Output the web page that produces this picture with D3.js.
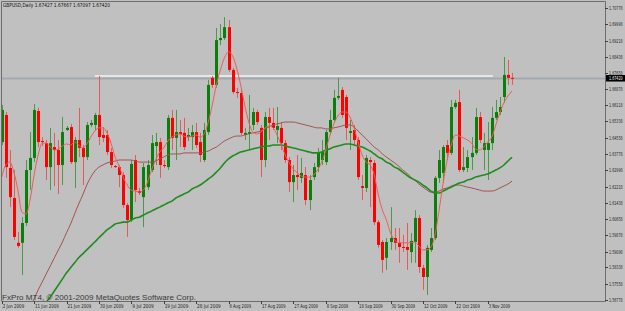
<!DOCTYPE html>
<html>
<head>
<meta charset="utf-8">
<script src="https://cdnjs.cloudflare.com/ajax/libs/d3/7.8.5/d3.min.js"></script>
<style>
    html, body { margin: 0; padding: 0; background: #c0c0c0; }
    svg { display: block; }
</style>
</head>
<body>
<svg id="chart" width="625" height="311"></svg>
<script>
/** ------------- DATA (GBPUSD Daily) ---------------------------------- */

const title = "GBPUSD,Daily  1.67427 1.67667 1.67097 1.67420";
const copyright = "FxPro MT4, \u00a9 2001-2009 MetaQuotes Software Corp.";

const opens = [
    1.6435, 1.6565, 1.6311, 1.6167, 1.5952, 1.5952, 1.6047, 1.6301, 1.6359, 1.6584,
    1.6440, 1.6430, 1.6315, 1.6411, 1.6397, 1.6325, 1.6493, 1.6507, 1.6339, 1.6445,
    1.6407, 1.6363, 1.6517, 1.6517, 1.6565, 1.6469, 1.6469, 1.6387, 1.6320, 1.6315,
    1.6277, 1.6133, 1.6061, 1.6349, 1.6200, 1.6171, 1.6219, 1.6301, 1.6416, 1.6435,
    1.6325, 1.6315, 1.6551, 1.6455, 1.6483, 1.6479, 1.6459, 1.6459, 1.6483, 1.6435,
    1.6349, 1.6483, 1.6743, 1.6709, 1.6924, 1.6934, 1.6986, 1.6781, 1.6675, 1.6670,
    1.6469, 1.6474, 1.6517, 1.6579, 1.6503, 1.6349, 1.6555, 1.6527, 1.6493, 1.6503,
    1.6430, 1.6349, 1.6243, 1.6277, 1.6263, 1.6277, 1.6157, 1.6267, 1.6315, 1.6349,
    1.6339, 1.6483, 1.6541, 1.6647, 1.6685, 1.6651, 1.6479, 1.6493, 1.6445, 1.6224,
    1.6215, 1.6349, 1.6335, 1.6051, 1.5956, 1.5880, 1.5956, 1.5975, 1.5952, 1.5932,
    1.5932, 1.5908, 1.5956, 1.6071, 1.5832, 1.5788, 1.5918, 1.5975, 1.6263, 1.6287,
    1.6421, 1.6383, 1.6603, 1.6627, 1.6301, 1.6311, 1.6363, 1.6383, 1.6555, 1.6397,
    1.6397, 1.6430, 1.6551, 1.6579, 1.6651, 1.6757, 1.67427
];
const highs = [
    1.6613, 1.6579, 1.6397, 1.6301, 1.6004, 1.6075, 1.6349, 1.6483, 1.6618, 1.6599,
    1.6459, 1.6445, 1.6503, 1.6479, 1.6445, 1.6555, 1.6512, 1.6522, 1.6459, 1.6599,
    1.6421, 1.6531, 1.6541, 1.6575, 1.6752, 1.6507, 1.6493, 1.6407, 1.6325, 1.6325,
    1.6291, 1.6143, 1.6349, 1.6373, 1.6215, 1.6335, 1.6349, 1.6469, 1.6479, 1.6455,
    1.6349, 1.6565, 1.6589, 1.6589, 1.6541, 1.6551, 1.6503, 1.6517, 1.6527, 1.6479,
    1.6527, 1.6733, 1.6752, 1.6982, 1.7001, 1.7034, 1.7020, 1.6791, 1.6695, 1.6685,
    1.6503, 1.6661, 1.6599, 1.6589, 1.6517, 1.6579, 1.6599, 1.6599, 1.6603, 1.6531,
    1.6445, 1.6363, 1.6325, 1.6373, 1.6359, 1.6315, 1.6277, 1.6335, 1.6407, 1.6445,
    1.6493, 1.6589, 1.6685, 1.6743, 1.6699, 1.6661, 1.6541, 1.6517, 1.6459, 1.6277,
    1.6373, 1.6363, 1.6349, 1.6061, 1.5966, 1.5975, 1.6123, 1.6023, 1.6023, 1.5990,
    1.6047, 1.5999, 1.6109, 1.6085, 1.5846, 1.5942, 1.6023, 1.6272, 1.6397, 1.6421,
    1.6445, 1.6637, 1.6637, 1.6685, 1.6411, 1.6397, 1.6459, 1.6599, 1.6579, 1.6479,
    1.6531, 1.6603, 1.6637, 1.6651, 1.6843, 1.6829, 1.67667
];
const lows = [
    1.6421, 1.6263, 1.6123, 1.5966, 1.5928, 1.5798, 1.6032, 1.6205, 1.6339, 1.6411,
    1.6416, 1.6253, 1.6205, 1.6224, 1.6186, 1.6229, 1.6488, 1.6330, 1.6215, 1.6363,
    1.6229, 1.6349, 1.6507, 1.6493, 1.6421, 1.6435, 1.6373, 1.6311, 1.6311, 1.6219,
    1.6119, 1.5980, 1.6051, 1.6147, 1.6181, 1.6027, 1.6205, 1.6291, 1.6325, 1.6263,
    1.6311, 1.6301, 1.6397, 1.6349, 1.6411, 1.6397, 1.6440, 1.6397, 1.6407, 1.6339,
    1.6339, 1.6469, 1.6695, 1.6695, 1.6900, 1.6924, 1.6771, 1.6666, 1.6647, 1.6469,
    1.6445, 1.6397, 1.6493, 1.6517, 1.6267, 1.6315, 1.6445, 1.6493, 1.6430, 1.6397,
    1.6335, 1.6195, 1.6147, 1.6205, 1.6239, 1.6133, 1.6109, 1.6253, 1.6291, 1.6325,
    1.6325, 1.6469, 1.6531, 1.6637, 1.6551, 1.6445, 1.6397, 1.6421, 1.6253, 1.6157,
    1.6195, 1.6123, 1.6037, 1.5928, 1.5808, 1.5822, 1.5918, 1.5918, 1.5856, 1.5908,
    1.5822, 1.5856, 1.5856, 1.5808, 1.5726, 1.5702, 1.5908, 1.5966, 1.6239, 1.6239,
    1.6349, 1.6373, 1.6594, 1.6291, 1.6291, 1.6291, 1.6301, 1.6373, 1.6430, 1.6301,
    1.6253, 1.6397, 1.6541, 1.6565, 1.6623, 1.6709, 1.67097
];
const closes = [
    1.6589, 1.6315, 1.6171, 1.5980, 1.5937, 1.6047, 1.6301, 1.6359, 1.6589, 1.6435,
    1.6435, 1.6315, 1.6430, 1.6397, 1.6325, 1.6483, 1.6503, 1.6339, 1.6445, 1.6407,
    1.6363, 1.6517, 1.6527, 1.6565, 1.6459, 1.6455, 1.6387, 1.6325, 1.6315, 1.6277,
    1.6133, 1.6061, 1.6330, 1.6205, 1.6191, 1.6315, 1.6325, 1.6430, 1.6435, 1.6325,
    1.6320, 1.6551, 1.6455, 1.6483, 1.6474, 1.6411, 1.6469, 1.6483, 1.6421, 1.6373,
    1.6493, 1.6709, 1.6709, 1.6924, 1.6934, 1.6986, 1.6781, 1.6675, 1.6670, 1.6479,
    1.6479, 1.6483, 1.6579, 1.6531, 1.6349, 1.6555, 1.6527, 1.6503, 1.6512, 1.6430,
    1.6349, 1.6243, 1.6277, 1.6267, 1.6287, 1.6157, 1.6253, 1.6315, 1.6387, 1.6387,
    1.6483, 1.6541, 1.6647, 1.6656, 1.6565, 1.6503, 1.6488, 1.6445, 1.6267, 1.6215,
    1.6359, 1.6339, 1.6051, 1.5942, 1.5870, 1.5956, 1.5975, 1.5952, 1.5932, 1.5928,
    1.5918, 1.5961, 1.6071, 1.5836, 1.5788, 1.5928, 1.5975, 1.6263, 1.6349, 1.6411,
    1.6383, 1.6603, 1.6623, 1.6301, 1.6315, 1.6363, 1.6383, 1.6555, 1.6445, 1.6430,
    1.6430, 1.6551, 1.6579, 1.6603, 1.6757, 1.6743, 1.67420
];

/** fast moving average (thin red), one value per bar */
const maFast = [
    1.6267, 1.6325, 1.6339, 1.6291, 1.6205, 1.6099, 1.6090, 1.6157, 1.6277, 1.6373,
    1.6430, 1.6430, 1.6411, 1.6397, 1.6402, 1.6416, 1.6426, 1.6421, 1.6435, 1.6421,
    1.6407, 1.6426, 1.6459, 1.6488, 1.6503, 1.6503, 1.6479, 1.6430, 1.6363, 1.6320,
    1.6267, 1.6229, 1.6205, 1.6200, 1.6195, 1.6205, 1.6243, 1.6301, 1.6349, 1.6387,
    1.6407, 1.6440, 1.6459, 1.6469, 1.6474, 1.6464, 1.6459, 1.6464, 1.6469, 1.6459,
    1.6474, 1.6531, 1.6613, 1.6709, 1.6781, 1.6839, 1.6867, 1.6848, 1.6791, 1.6709,
    1.6613, 1.6531, 1.6483, 1.6474, 1.6483, 1.6503, 1.6512, 1.6503, 1.6469, 1.6421,
    1.6373, 1.6335, 1.6306, 1.6287, 1.6272, 1.6267, 1.6267, 1.6277, 1.6301, 1.6339,
    1.6397, 1.6464, 1.6522, 1.6560, 1.6579, 1.6579, 1.6555, 1.6503, 1.6435, 1.6373,
    1.6339, 1.6325, 1.6277, 1.6181, 1.6109, 1.6061, 1.6000, 1.5966, 1.5952, 1.5952,
    1.5952, 1.5952, 1.5956, 1.5937, 1.5918, 1.5918, 1.5932, 1.5990, 1.6109, 1.6239,
    1.6349, 1.6421, 1.6469, 1.6464, 1.6455, 1.6445, 1.6430, 1.6402, 1.6397, 1.6411,
    1.6435, 1.6459, 1.6517, 1.6575, 1.6623, 1.6656, 1.6680
];

/** slow moving average (brown), starts at bar 7 */
const maSlowStart = 7;
const maSlow = [
    1.5644, 1.5683, 1.5726, 1.5764, 1.5803, 1.5841, 1.5880, 1.5918, 1.5956, 1.6000,
    1.6042, 1.6090, 1.6138, 1.6181, 1.6229, 1.6267, 1.6296, 1.6315, 1.6325, 1.6335,
    1.6339, 1.6344, 1.6349, 1.6349, 1.6349, 1.6349, 1.6344, 1.6339, 1.6339, 1.6339,
    1.6339, 1.6344, 1.6354, 1.6363, 1.6373, 1.6378, 1.6378, 1.6378, 1.6383, 1.6383,
    1.6383, 1.6383, 1.6383, 1.6387, 1.6392, 1.6402, 1.6411, 1.6426, 1.6440, 1.6450,
    1.6459, 1.6464, 1.6464, 1.6469, 1.6474, 1.6479, 1.6483, 1.6488, 1.6498, 1.6507,
    1.6517, 1.6522, 1.6527, 1.6531, 1.6531, 1.6531, 1.6527, 1.6522, 1.6517, 1.6512,
    1.6507, 1.6503, 1.6503, 1.6498, 1.6498, 1.6503, 1.6507, 1.6512, 1.6517, 1.6517,
    1.6507, 1.6488, 1.6469, 1.6450, 1.6430, 1.6411, 1.6397, 1.6378, 1.6363, 1.6349,
    1.6335, 1.6320, 1.6301, 1.6287, 1.6267, 1.6253, 1.6234, 1.6219, 1.6205, 1.6195,
    1.6195, 1.6200, 1.6210, 1.6215, 1.6224, 1.6229, 1.6229, 1.6224, 1.6219, 1.6215,
    1.6210, 1.6205, 1.6200, 1.6200, 1.6200, 1.6205, 1.6215, 1.6224, 1.6234, 1.6248
];

/** medium moving average (thick green), starts at bar 11 */
const maMidStart = 11;
const maMid = [
    1.5668, 1.5692, 1.5721, 1.5750, 1.5779, 1.5808, 1.5832, 1.5856, 1.5880, 1.5899,
    1.5918, 1.5937, 1.5956, 1.5976, 1.5995, 1.6014, 1.6027, 1.6042, 1.6047, 1.6051,
    1.6051, 1.6061, 1.6071, 1.6075, 1.6085, 1.6095, 1.6104, 1.6114, 1.6123, 1.6133,
    1.6143, 1.6152, 1.6167, 1.6176, 1.6186, 1.6195, 1.6210, 1.6219, 1.6229, 1.6243,
    1.6258, 1.6272, 1.6291, 1.6311, 1.6335, 1.6354, 1.6368, 1.6378, 1.6387, 1.6392,
    1.6397, 1.6402, 1.6407, 1.6411, 1.6416, 1.6416, 1.6421, 1.6421, 1.6421, 1.6416,
    1.6411, 1.6407, 1.6402, 1.6397, 1.6392, 1.6387, 1.6383, 1.6383, 1.6387, 1.6397,
    1.6402, 1.6411, 1.6416, 1.6421, 1.6426, 1.6426, 1.6421, 1.6416, 1.6411, 1.6402,
    1.6392, 1.6378, 1.6363, 1.6354, 1.6339, 1.6330, 1.6315, 1.6306, 1.6291, 1.6277,
    1.6263, 1.6253, 1.6243, 1.6229, 1.6215, 1.6200, 1.6191, 1.6191, 1.6200, 1.6210,
    1.6219, 1.6229, 1.6239, 1.6243, 1.6253, 1.6258, 1.6267, 1.6272, 1.6277, 1.6282,
    1.6291, 1.6301, 1.6311, 1.6325, 1.6344, 1.6363
];

/** white horizontal level drawn on the chart (price, first bar, last bar) */
const levelPrice = 1.6752;
const levelBars = [23, 121.3];

const priceTicks = [
    1.70778, 1.69998, 1.69218, 1.68438, 1.67658, 1.66878, 1.66118, 1.65338, 1.64558, 1.63778,
    1.62998, 1.62218, 1.61438, 1.60658, 1.59878, 1.59098, 1.58338, 1.57558, 1.56778
];
const dateLabels = [
    "2 Jun 2009", "11 Jun 2009", "21 Jun 2009", "30 Jun 2009", "9 Jul 2009", "19 Jul 2009",
    "28 Jul 2009", "6 Aug 2009", "17 Aug 2009", "27 Aug 2009", "8 Sep 2009", "18 Sep 2009",
    "30 Sep 2009", "12 Oct 2009", "22 Oct 2009", "3 Nov 2009"
];
const barsPerLabel = 8;

/** ------------- CHART -------------- */

const svg = d3.select("#chart");
const width = +svg.attr("width");
const height = +svg.attr("height");
const plotRight = 605;
const plotBottom = 301;

const n = closes.length;
const x = d3.scaleLinear().domain([0, n - 1]).range([1.7, 512]);
const y = d3.scaleLinear().domain([1.56778, 1.70778]).range([300, 8]);

svg.append("rect")
    .attr("width", width)
    .attr("height", height)
    .attr("fill", "#c0c0c0");

svg.append("clipPath")
    .attr("id", "plot-clip")
    .append("rect")
    .attr("x", 1)
    .attr("y", 1)
    .attr("width", plotRight - 1)
    .attr("height", plotBottom - 1);

const plot = svg.append("g").attr("clip-path", "url(#plot-clip)");

// bid line at the last close
plot.append("line")
    .attr("x1", 0)
    .attr("x2", plotRight)
    .attr("y1", y(closes[n - 1]) + 0.5)
    .attr("y2", y(closes[n - 1]) + 0.5)
    .attr("stroke", "#a2a9b0")
    .attr("stroke-width", 2);

// white horizontal level
plot.append("line")
    .attr("x1", x(levelBars[0]))
    .attr("x2", x(levelBars[1]))
    .attr("y1", y(levelPrice))
    .attr("y2", y(levelPrice))
    .attr("stroke", "#f4f4f4")
    .attr("stroke-width", 1.5);

const bars = d3.range(n).map((i) => ({
    i: i,
    o: opens[i],
    h: highs[i],
    l: lows[i],
    c: closes[i],
}));

const bullBody = "#0a800a";
const bearBody = "#ff0000";
const bullWick = "#4a9a4a";
const bearWick = "#e85a5a";

const candles = plot.append("g")
    .selectAll("g")
    .data(bars)
    .join("g");

// wicks
candles.append("line")
    .attr("x1", (d) => Math.round(x(d.i)) + 0.5)
    .attr("x2", (d) => Math.round(x(d.i)) + 0.5)
    .attr("y1", (d) => y(d.h))
    .attr("y2", (d) => y(d.l))
    .attr("stroke", (d) => (d.c >= d.o ? bullWick : bearWick))
    .attr("stroke-width", 1);

// bodies
candles.append("rect")
    .attr("x", (d) => Math.round(x(d.i)) - 1)
    .attr("width", 3)
    .attr("y", (d) => y(Math.max(d.o, d.c)))
    .attr("height", (d) => Math.max(1, Math.abs(y(d.o) - y(d.c))))
    .attr("fill", (d) => (d.c >= d.o ? bullBody : bearBody));

/**
 * Draw a moving average line starting at a given bar
 * @param {number[]} values
 * @param {number} start
 * @param {string} color
 * @param {number} w
 */
function drawMa(values, start, color, w) {
    const line = d3.line()
        .x((d, k) => x(start + k))
        .y((d) => y(d))
        .curve(d3.curveMonotoneX);
    plot.append("path")
        .datum(values)
        .attr("d", line)
        .attr("fill", "none")
        .attr("stroke", color)
        .attr("stroke-width", w);
}

drawMa(maSlow, maSlowStart, "#a5524e", 1);
drawMa(maMid, maMidStart, "#1f8c1f", 1.6);
drawMa(maFast, 0, "#f25a5a", 1);

/** ------------- FRAME AND AXES -------------- */

svg.append("path")
    .attr("d", `M1.5,${plotBottom}V1.5H${plotRight + 0.5}V${plotBottom + 0.5}H1.5`)
    .attr("fill", "none")
    .attr("stroke", "#6e6e6e")
    .attr("stroke-width", 1);

// price labels are squeezed horizontally so they fit in the narrow margin
const labelSqueeze = 0.6;

const yAxis = svg.append("g");
yAxis.selectAll("line")
    .data(priceTicks)
    .join("line")
    .attr("x1", plotRight)
    .attr("x2", plotRight + 3)
    .attr("y1", (d) => Math.round(y(d)) + 0.5)
    .attr("y2", (d) => Math.round(y(d)) + 0.5)
    .attr("stroke", "#404040");
yAxis.selectAll("text")
    .data(priceTicks)
    .join("text")
    .attr("transform", (d) => `translate(${plotRight + 4},${y(d) + 2}) scale(${labelSqueeze},1)`)
    .attr("font-family", "DejaVu Sans, sans-serif")
    .attr("font-size", 5.5)
    .attr("fill", "#202020")
    .text((d) => d.toFixed(5));

// last price box
const lastY = y(closes[n - 1]);
svg.append("rect")
    .attr("x", plotRight + 1)
    .attr("y", lastY - 3)
    .attr("width", width - plotRight - 1)
    .attr("height", 6.5)
    .attr("fill", "#000000");
svg.append("text")
    .attr("transform", `translate(${plotRight + 4},${lastY + 2.2}) scale(${labelSqueeze},1)`)
    .attr("font-family", "DejaVu Sans, sans-serif")
    .attr("font-size", 5.5)
    .attr("fill", "#ffffff")
    .text(closes[n - 1].toFixed(5));

const xAxis = svg.append("g");
xAxis.selectAll("line")
    .data(dateLabels)
    .join("line")
    .attr("x1", (d, k) => Math.round(x(k * barsPerLabel)) + 0.5)
    .attr("x2", (d, k) => Math.round(x(k * barsPerLabel)) + 0.5)
    .attr("y1", plotBottom)
    .attr("y2", plotBottom + 3)
    .attr("stroke", "#404040");
xAxis.selectAll("text")
    .data(dateLabels)
    .join("text")
    .attr("x", (d, k) => x(k * barsPerLabel) + 1)
    .attr("y", 308)
    .attr("textLength", (d) => d.length * 2.15)
    .attr("lengthAdjust", "spacingAndGlyphs")
    .attr("font-family", "DejaVu Sans, sans-serif")
    .attr("font-size", 5.5)
    .attr("fill", "#202020")
    .text((d) => d);

/** ------------- TEXTS -------------- */

svg.append("text")
    .attr("x", 3)
    .attr("y", 7)
    .attr("textLength", 107)
    .attr("lengthAdjust", "spacingAndGlyphs")
    .attr("font-family", "DejaVu Sans, sans-serif")
    .attr("font-size", 5.5)
    .attr("fill", "#101010")
    .text(title);

svg.append("text")
    .attr("x", 2)
    .attr("y", 300)
    .attr("textLength", 194)
    .attr("lengthAdjust", "spacingAndGlyphs")
    .attr("font-family", "Liberation Sans, sans-serif")
    .attr("font-size", 8)
    .attr("fill", "#3a3a3a")
    .text(copyright);
</script>
</body>
</html>
